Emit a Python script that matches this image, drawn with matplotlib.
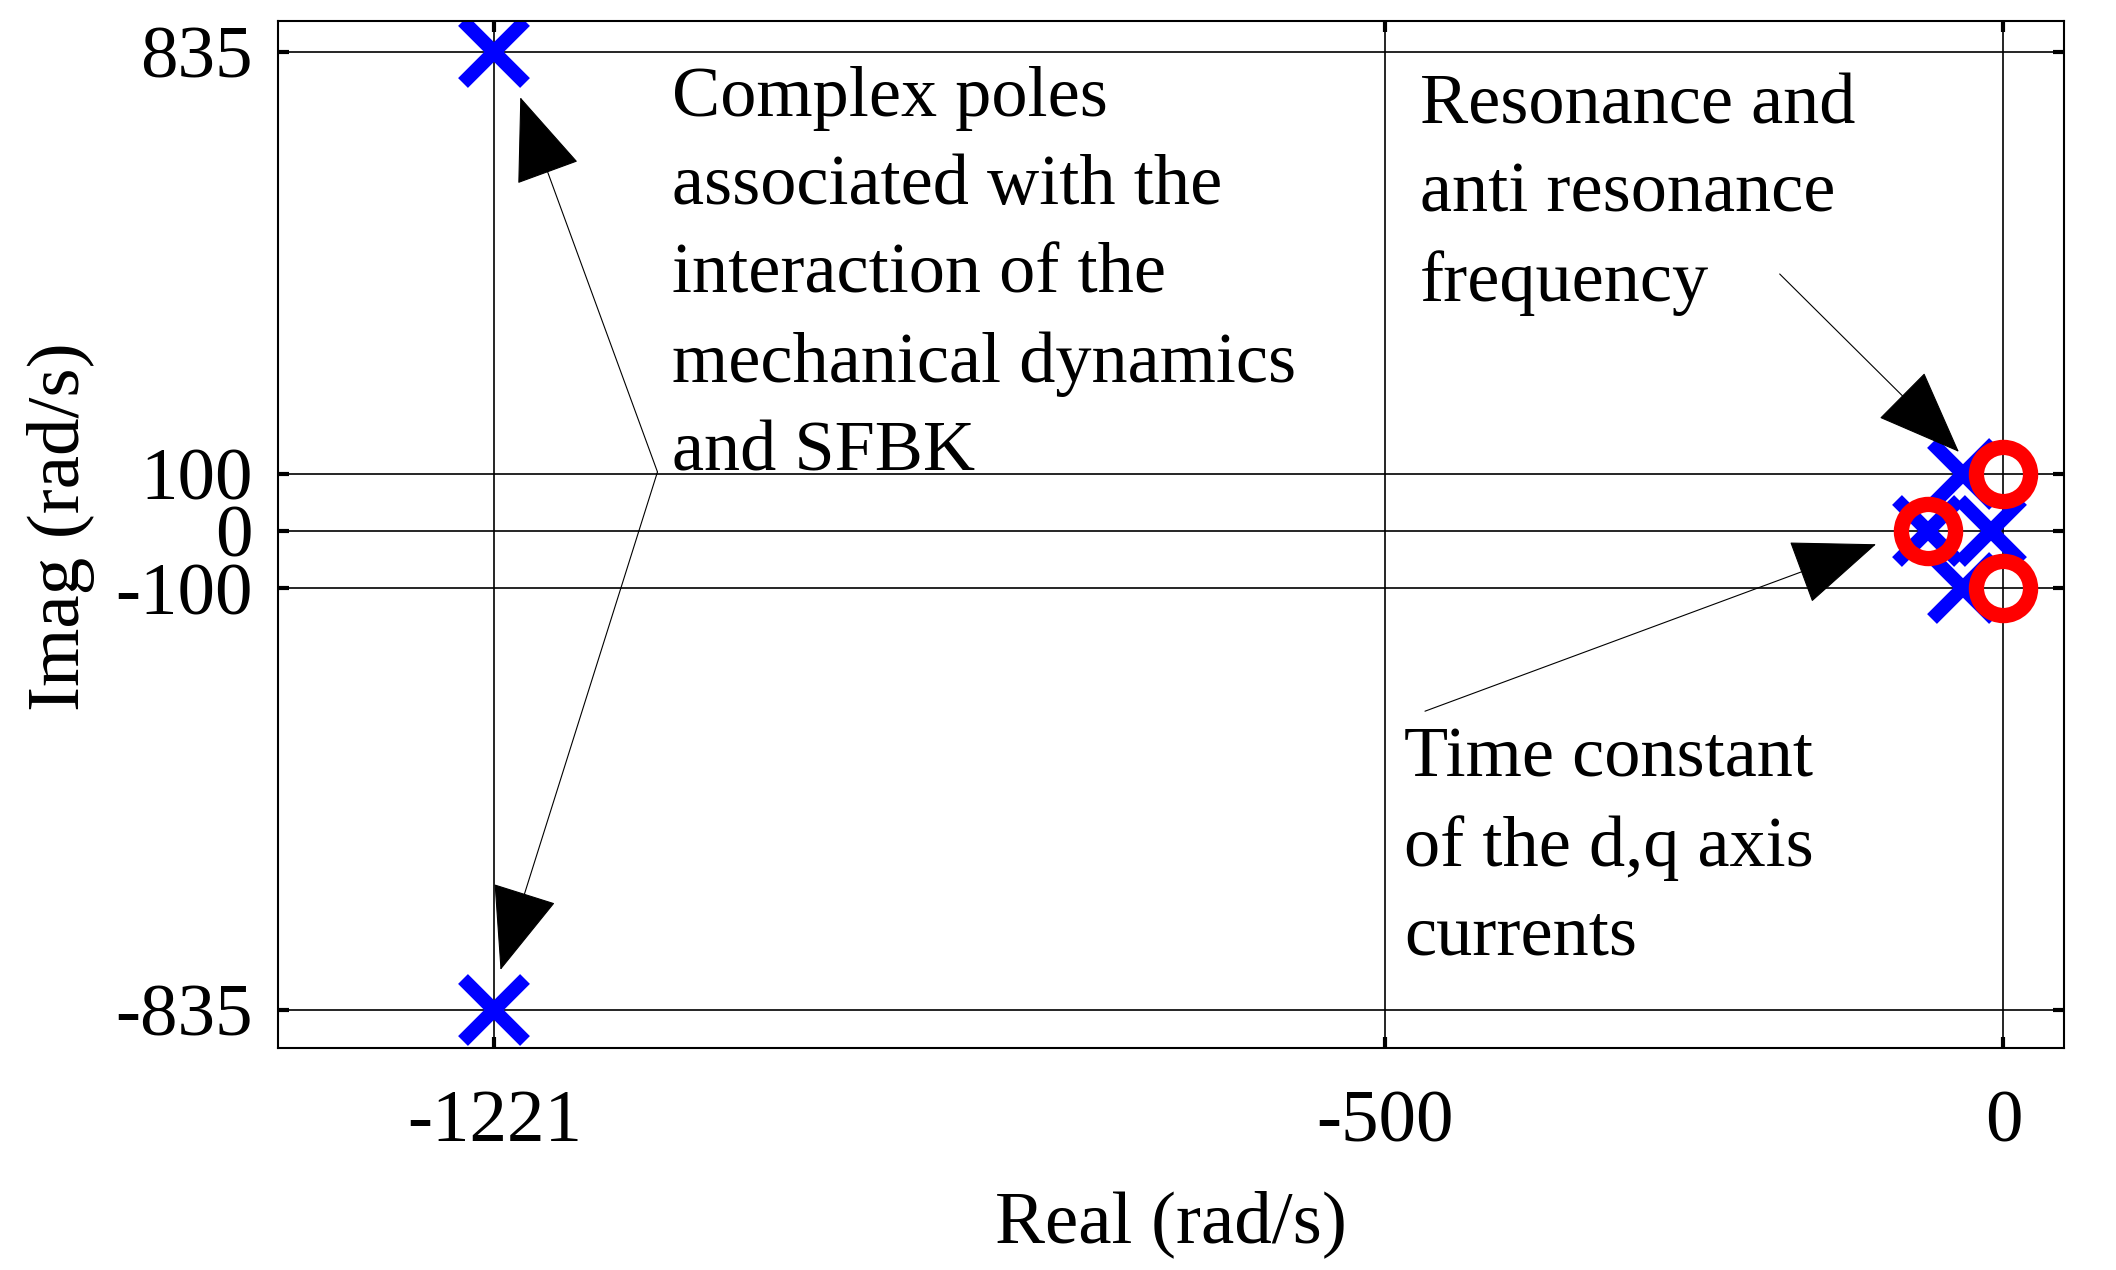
import matplotlib
matplotlib.use('Agg')
import matplotlib.pyplot as plt

# pole / zero locations (rad/s)
pole_re = [-1221, -1221, -33, -33, -61, -10]
pole_im = [835, -835, 100, -100, 0, 0]
zero_re = [0, 0, -61]
zero_im = [100, -100, 0]

xticks = [-1221, -500, 0]
yticks = [-835, -100, 0, 100, 835]

plt.rcParams['font.family'] = ['Liberation Serif', 'DejaVu Serif']
plt.rcParams['axes.unicode_minus'] = False

fig = plt.figure(figsize=(21.16, 12.7), dpi=100)
ax = fig.add_axes([0.1314, 0.1748, 0.8440, 0.8087])

ax.plot(pole_re, pole_im, 'x', color='#0000ff', markersize=44, mew=10, linestyle='none')
ax.plot(zero_re, zero_im, 'o', color='#ff0000', mfc='none', markersize=39, mew=11, linestyle='none')

ax.set_xlim(-1396, 49)
ax.set_ylim(-901, 889)
ax.set_xticks(xticks)
ax.set_yticks(yticks)
ax.grid(True, color='black', linewidth=1.2)
ax.set_axisbelow(True)
for s in ax.spines.values():
    s.set_linewidth(1.5)
ax.tick_params(axis='both', labelsize=54, direction='in', length=8, width=3,
               top=True, right=True)
ax.tick_params(axis='x', pad=30)
ax.tick_params(axis='y', pad=18)

ax.set_xlabel('Real (rad/s)', fontsize=54, va='center')
ax.xaxis.set_label_coords(0.5, -0.172)
ax.set_ylabel('Imag (rad/s)', fontsize=54, va='center')
ax.yaxis.set_label_coords(-0.1215, 0.508)

txt_kw = dict(fontsize=52, ha='left', va='top', linespacing=1.47)
ax.text(-1077, 811, 'Complex poles\nassociated with the\ninteraction of the\nmechanical dynamics\nand SFBK', **txt_kw)
ax.text(-472, 798, 'Resonance and\nanti resonance\nfrequency', **txt_kw)
ax.text(-485, -341, 'Time constant\nof the d,q axis\ncurrents', **txt_kw)

arw = dict(arrowstyle='-|>,head_length=1.4,head_width=0.55', color='black',
           lw=0.8, mutation_scale=40, shrinkA=0, shrinkB=0)
ax.annotate('', xy=(-1200, 756), xytext=(-1089, 103), arrowprops=arw)
ax.annotate('', xy=(-1216, -765), xytext=(-1089, 103), arrowprops=arw)
ax.annotate('', xy=(-36, 138), xytext=(-181, 448), arrowprops=arw)
ax.annotate('', xy=(-103, -23), xytext=(-468, -314), arrowprops=arw)

fig.savefig('out.png', dpi=100)
